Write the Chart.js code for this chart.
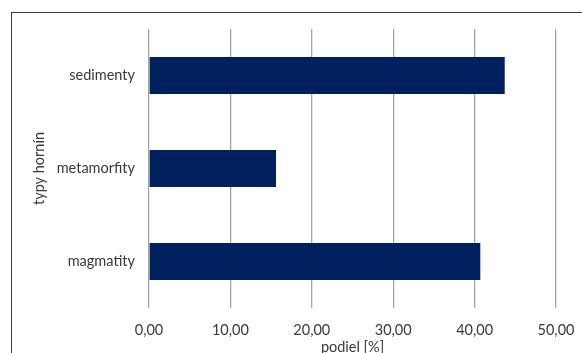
<!DOCTYPE html>
<html>
<head>
<meta charset="utf-8">
<script src="https://cdn.jsdelivr.net/npm/chart.js@4/dist/chart.umd.min.js"></script>
<style>
html,body{margin:0;padding:0;background:#fff;overflow:hidden;width:582px;height:353px;}
#frame{position:absolute;left:11px;top:12px;width:600px;height:400px;border-top:1.5px solid #3f3f3f;border-left:1.5px solid #3f3f3f;box-sizing:border-box;}
#c{position:absolute;left:0;top:0;}
</style>
</head>
<body>
<div id="frame"></div>
<canvas id="c" width="582" height="362"></canvas>
<script>
const categories = ["sedimenty", "metamorfity", "magmatity"];
const shares = [43.7, 15.6, 40.7];
const xTicks = [0, 10, 20, 30, 40, 50];
const xTitle = "podiel [%]";
const yTitle = "typy hornín";

const FONT = "Lato, 'Open Sans', sans-serif";
const TXT = "#3a3a3a";
const FS = 14.5;

new Chart(document.getElementById('c'), {
  type: 'bar',
  data: {
    labels: categories,
    datasets: [{
      data: shares,
      backgroundColor: '#00205F',
      borderWidth: 0,
      barPercentage: 0.4,
      categoryPercentage: 1.0
    }]
  },
  options: {
    indexAxis: 'y',
    responsive: false,
    animation: false,
    events: [],
    layout: { padding: { left: 31, right: 26, top: 29, bottom: 6 } },
    plugins: { legend: { display: false }, tooltip: { enabled: false } },
    scales: {
      x: {
        min: 0, max: 50,
        afterBuildTicks: (s) => { s.ticks = xTicks.map(v => ({ value: v })); },
        grid: { color: '#a6a6a6', lineWidth: 1.3, drawTicks: false },
        border: { display: false },
        ticks: {
          color: TXT, padding: 14, maxRotation: 0, minRotation: 0,
          font: { family: FONT, size: FS },
          callback: (v) => Number(v).toFixed(2).replace('.', ',')
        },
        title: {
          display: true, text: xTitle, color: TXT,
          font: { family: FONT, size: FS },
          padding: { top: 1, bottom: 0 }
        },
        afterFit: (s) => { s.height = 362 - 6 - 308; s.paddingLeft = 0; s.paddingRight = 0; }
      },
      y: {
        grid: { display: false, drawTicks: false },
        border: { display: false },
        ticks: { color: TXT, padding: 14, font: { family: FONT, size: FS } },
        title: {
          display: true, text: yTitle, color: TXT,
          font: { family: FONT, size: FS },
          padding: 0
        },
        afterFit: (s) => { s.width = 118; s.paddingTop = 0; s.paddingBottom = 0; }
      }
    }
  }
});
</script>
</body>
</html>
